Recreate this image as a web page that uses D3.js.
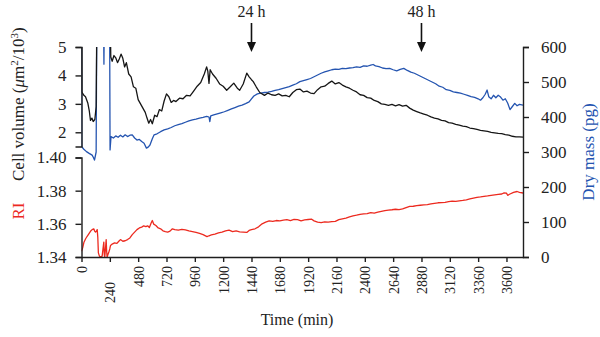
<!DOCTYPE html>
<html><head><meta charset="utf-8">
<script src="https://cdn.jsdelivr.net/npm/d3@7"></script>
<style>
html,body{margin:0;padding:0;background:#fff;}
svg{display:block;font-family:"Liberation Serif","Times New Roman",serif;}
</style></head>
<body>
<svg id="chart" width="600" height="337"></svg>
<script>
// ---- Data ----
const xTicks = [0,240,480,720,960,1200,1440,1680,1920,2160,2400,2640,2880,3120,3360,3600];
const volTicks = [2,3,4,5];
const riTicks = [1.34,1.36,1.38,1.40];
const massTicks = [0,100,200,300,400,500,600];
const markers = [{t:1440,label:"24 h"},{t:2880,label:"48 h"}];

// Cell volume (µm²/10³) – black
const timeVol = [0,2,20,34,54,66,76,88,99,113,124,132,240,248,260,275,290,305,320,335,350,365,380,400,420,440,460,480,500,520,540,555,570,585,600,620,640,660,680,700,720,740,760,780,800,830,860,890,920,950,980,1010,1040,1060,1070,1080,1090,1110,1140,1170,1200,1230,1260,1290,1320,1340,1370,1400,1420,1440,1455,1480,1510,1550,1580,1610,1640,1670,1700,1730,1760,1790,1820,1850,1880,1910,1940,1970,2000,2030,2060,2090,2120,2150,2180,2210,2240,2270,2300,2330,2360,2390,2420,2450,2480,2510,2540,2570,2600,2630,2660,2690,2720,2750,2780,2810,2840,2870,2900,2930,2960,2990,3020,3050,3080,3110,3140,3170,3200,3230,3260,3290,3320,3350,3380,3410,3440,3470,3500,3530,3560,3590,3620,3650,3680,3710,3740];
const volume = [7,3.42,3.3,3.25,3.02,2.75,2.42,2.5,2.38,2.45,2.9,7,7,4.65,4.5,4.7,4.62,4.45,4.58,4.75,4.6,4.3,4.45,4.05,3.95,3.6,3.55,3.15,3.0,2.85,2.7,2.5,2.32,2.45,2.3,2.6,2.55,2.8,2.75,3.1,3.35,3.25,3.05,3.12,3.08,3.2,3.18,3.3,3.28,3.45,3.62,3.75,4.05,4.3,4.15,3.72,4.2,4.05,3.9,3.7,3.62,3.48,3.6,3.73,3.55,3.48,3.7,4.08,3.95,3.85,3.78,3.6,3.4,3.3,3.38,3.32,3.3,3.35,3.28,3.3,3.25,3.4,3.5,3.52,3.42,3.45,3.38,3.36,3.5,3.6,3.62,3.72,3.8,3.7,3.75,3.66,3.6,3.55,3.48,3.42,3.32,3.3,3.22,3.2,3.12,3.08,3.0,2.98,2.95,2.98,2.93,2.97,2.92,2.95,2.85,2.78,2.73,2.68,2.64,2.6,2.54,2.5,2.47,2.42,2.4,2.34,2.32,2.28,2.25,2.22,2.2,2.15,2.13,2.1,2.07,2.05,2.03,2.0,1.98,1.96,1.95,1.92,1.9,1.86,1.84,1.84,1.83];

// Dry mass (pg) – blue
const timeMass = [0,2,20,42,65,90,100,110,118,124,130,186,190,194,238,242,250,270,290,310,330,350,370,390,410,430,450,470,490,510,530,550,565,580,600,615,640,670,700,730,760,790,820,850,880,910,940,970,1000,1030,1060,1080,1087,1095,1120,1150,1180,1210,1240,1270,1300,1330,1360,1390,1420,1440,1460,1490,1520,1550,1580,1610,1640,1670,1700,1730,1760,1790,1820,1850,1880,1910,1940,1970,2000,2030,2060,2090,2120,2150,2180,2210,2240,2270,2300,2330,2360,2390,2420,2450,2470,2490,2520,2550,2580,2610,2640,2670,2700,2730,2760,2790,2820,2850,2880,2910,2940,2970,3000,3030,3060,3090,3120,3150,3180,3210,3240,3270,3300,3330,3360,3380,3400,3420,3436,3450,3470,3490,3510,3530,3550,3570,3590,3610,3630,3650,3670,3690,3710,3740];
const mass = [700,315,308,301,296,291,285,277,290,300,700,700,551,700,700,306,344,340,346,342,348,343,349,344,348,349,340,334,336,330,325,311,314,320,338,349,352,358,363,366,370,375,378,381,385,389,392,394,397,399,402,400,387,403,406,409,412,415,419,423,427,431,434,438,443,452,460,466,468,470,471,473,476,478,481,484,487,491,495,501,504,507,510,515,520,525,529,532,535,537,536,539,538,540,541,543,542,546,545,548,550,546,544,540,538,539,535,532,536,539,533,528,525,520,515,510,505,500,495,488,485,478,476,472,470,468,465,462,458,456,452,448,455,465,477,458,452,462,455,462,457,448,452,440,421,430,439,432,436,434];

// Refractive index – red
const timeRI = [0,10,20,35,48,62,76,90,104,112,119,126,133,138,143,152,160,175,182,189,193,197,203,209,213,217,224,231,240,246,260,280,300,316,330,350,370,390,410,430,450,470,490,510,527,545,560,575,590,600,612,630,650,670,690,710,730,750,770,790,820,850,880,910,940,970,1000,1030,1063,1080,1100,1130,1160,1190,1220,1250,1280,1310,1340,1370,1400,1420,1440,1470,1500,1530,1560,1590,1620,1650,1680,1710,1740,1770,1800,1830,1860,1890,1920,1950,1970,2000,2030,2060,2090,2120,2150,2180,2210,2240,2270,2300,2330,2360,2390,2420,2450,2480,2510,2540,2570,2600,2630,2660,2690,2720,2750,2780,2810,2840,2870,2900,2930,2960,2990,3020,3050,3080,3110,3140,3170,3200,3230,3260,3290,3320,3350,3380,3410,3440,3470,3500,3530,3560,3580,3600,3610,3630,3660,3690,3710,3740];
const ri = [1.3435,1.3455,1.3487,1.351,1.3525,1.354,1.3555,1.3565,1.357,1.3555,1.355,1.3555,1.3565,1.352,1.3425,1.3405,1.34,1.3405,1.345,1.349,1.3415,1.34,1.345,1.3505,1.3435,1.34,1.3415,1.3428,1.345,1.347,1.3478,1.3485,1.3482,1.3495,1.3505,1.3495,1.3498,1.3505,1.3515,1.3535,1.355,1.3565,1.3575,1.358,1.3588,1.3583,1.3588,1.3578,1.3605,1.362,1.3598,1.359,1.3575,1.357,1.3558,1.3553,1.355,1.3556,1.357,1.3565,1.3562,1.3567,1.3563,1.3557,1.3553,1.3548,1.3542,1.3535,1.3523,1.3528,1.3533,1.3538,1.3545,1.355,1.3558,1.3562,1.3553,1.3557,1.3552,1.355,1.3548,1.356,1.3565,1.357,1.3582,1.36,1.361,1.3618,1.3615,1.362,1.3618,1.3622,1.3625,1.362,1.3627,1.3625,1.3618,1.3624,1.3626,1.3628,1.3618,1.361,1.3607,1.3612,1.361,1.3613,1.3615,1.3625,1.363,1.3635,1.3642,1.3648,1.3652,1.3657,1.366,1.3662,1.3668,1.3665,1.367,1.3675,1.368,1.3683,1.3685,1.3688,1.3686,1.369,1.3698,1.3705,1.3706,1.371,1.3712,1.3714,1.3716,1.372,1.3724,1.3727,1.3728,1.373,1.3734,1.3737,1.3735,1.3738,1.3741,1.3745,1.375,1.3755,1.376,1.3762,1.3765,1.3768,1.3772,1.3775,1.3778,1.378,1.3787,1.3785,1.3772,1.378,1.379,1.3795,1.379,1.3786];

// ---- Chart ----
const svg = d3.select("#chart");
const C = {black:"#161616", blue:"#2454b0", red:"#ec2a1f", axis:"#1e1e1e"};
const x = d3.scaleLinear().domain([0,3740]).range([81.5,523]);
const yVol = d3.scaleLinear().domain([1.5,5]).range([146.5,47]);
const yRI = d3.scaleLinear().domain([1.34,1.40]).range([257,157.5]);
const yMass = d3.scaleLinear().domain([0,600]).range([257,47]);

svg.append("defs").append("clipPath").attr("id","clip")
  .append("rect").attr("x",81.5).attr("y",47).attr("width",523-81.5).attr("height",257-47);

function styleAxis(g, fs){
  g.selectAll("path,line").attr("stroke",C.axis).attr("stroke-width",1.4);
  g.selectAll("text").attr("fill","#222").style("font-size",fs+"px")
    .style("font-family",'"Liberation Serif","Times New Roman",serif');
}

// lines
const plot = svg.append("g").attr("clip-path","url(#clip)");
function drawLine(ts, vs, ys, color){
  plot.append("path")
    .datum(ts.map((t,i)=>[t,vs[i]]))
    .attr("fill","none").attr("stroke",color).attr("stroke-width",1.3)
    .attr("stroke-linejoin","round")
    .attr("d", d3.line().x(d=>x(d[0])).y(d=>ys(d[1])));
}
drawLine(timeMass, mass, yMass, C.blue);
drawLine(timeVol, volume, yVol, C.black);
drawLine(timeRI, ri, yRI, C.red);

// axes
const gx = svg.append("g").attr("transform","translate(0,257)")
  .call(d3.axisBottom(x).tickValues(xTicks).tickSize(5).tickSizeOuter(0).tickFormat(d3.format("d")));
gx.selectAll("text")
  .attr("transform","rotate(-90)").attr("text-anchor","end")
  .attr("x", d => d===240 ? -25 : -9).attr("y",0).attr("dy","0.35em");
styleAxis(gx, 14);

const gv = svg.append("g").attr("transform","translate(81.5,0)")
  .call(d3.axisLeft(yVol).tickValues(volTicks).tickSize(6).tickPadding(9).tickFormat(d3.format("d")));
styleAxis(gv, 17);

const gr = svg.append("g").attr("transform","translate(81.5,0)")
  .call(d3.axisLeft(yRI).tickValues(riTicks).tickSize(6).tickPadding(9).tickFormat(d3.format(".2f")));
styleAxis(gr, 17);

const gm = svg.append("g").attr("transform","translate(523,0)")
  .call(d3.axisRight(yMass).tickValues(massTicks).tickSize(6).tickPadding(12).tickFormat(d3.format("d")));
styleAxis(gm, 17);

// axis titles
svg.append("text").attr("x",297).attr("y",325).attr("text-anchor","middle")
  .style("font-size","16px").attr("fill","#222").text("Time (min)");

svg.append("text").attr("transform","translate(594,152) rotate(-90)")
  .attr("text-anchor","middle").style("font-size","17px").attr("fill",C.blue).text("Dry mass (pg)");

svg.append("text").attr("transform","translate(24,211) rotate(-90)")
  .attr("text-anchor","middle").style("font-size","17px").attr("fill",C.red).text("RI");

const cv = svg.append("text").attr("transform","translate(24,181) rotate(-90)")
  .attr("text-anchor","start").style("font-size","17px").attr("fill","#222");
cv.append("tspan").text("Cell volume (");
cv.append("tspan").style("font-style","italic").text("\u03BC");
cv.append("tspan").text("m");
cv.append("tspan").attr("dy","-6").style("font-size","11px").text("2");
cv.append("tspan").attr("dy","6").text("/10");
cv.append("tspan").attr("dy","-6").style("font-size","11px").text("3");
cv.append("tspan").attr("dy","6").text(")");

// time markers
const mk = svg.append("g").selectAll("g").data(markers).join("g")
  .attr("transform", d => `translate(${x(d.t)},0)`);
mk.append("text").attr("y",17).attr("text-anchor","middle")
  .style("font-size","16px").attr("fill","#222").text(d=>d.label);
mk.append("line").attr("y1",23).attr("y2",44).attr("stroke","#111").attr("stroke-width",1.6);
mk.append("path").attr("d","M-4.5,42 L4.5,42 L0,52 Z").attr("fill","#111");
</script>
</body></html>
